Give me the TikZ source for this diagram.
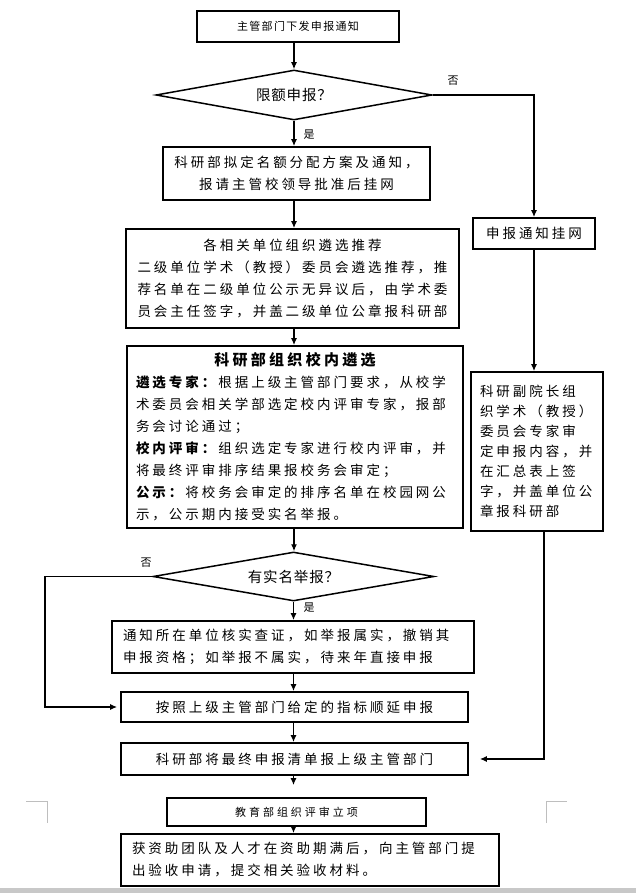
\documentclass[tikz,border=0pt]{standalone}
\usepackage{fontspec}
\setmainfont{Noto Sans CJK SC}
\usetikzlibrary{shapes.geometric,arrows.meta}
\definecolor{barGray}{RGB}{200,200,200}
\definecolor{markGray}{RGB}{190,190,190}
\begin{document}
\begin{tikzpicture}
[x=1pt,y=-1pt,
ar/.style={-{Latex[length=7pt,width=6pt]},line width=1.2pt},
bx/.style={draw,line width=1.8pt,inner sep=0pt,font=\fontsize{13.5}{22}\selectfont\addfontfeature{LetterSpace=22}},
sm/.style={bx,font=\fontsize{11}{14}\selectfont\addfontfeature{LetterSpace=12}},
dm/.style={draw,diamond,aspect=5.6,line width=1.5pt,inner sep=0pt,font=\fontsize{14.5}{18}\selectfont\addfontfeature{LetterSpace=6}},
lb/.style={inner sep=0pt,font=\fontsize{11}{13}\selectfont}]
\useasboundingbox (0,0) rectangle (636,893);
\fill [barGray] (0,888) rectangle (636,893);

\node [sm,minimum width=202pt,minimum height=31pt] at (298,26.5) (B1) {主管部门下发申报通知};
\node [dm,minimum width=276pt,minimum height=50pt] at (294,95) (D1) {限额申报？};
\node [bx,minimum width=267pt,minimum height=53pt,align=center] at (296.5,173.5) (B2) {科研部拟定名额分配方案及通知，\\报请主管校领导批准后挂网};
\node [bx,minimum width=333pt,minimum height=99pt,align=center] at (292.5,278.5) (B3) {各相关单位组织遴选推荐\\二级单位学术（教授）委员会遴选推荐，推\\荐名单在二级单位公示无异议后，由学术委\\员会主任签字，并盖二级单位公章报科研部};
\node [bx,text width=318pt,inner xsep=9pt,minimum height=182pt,align=left] at (295,437) (B4) {\makebox[\linewidth]{\fontsize{15}{22}\selectfont\bfseries 科研部组织校内遴选}\\\textbf{遴选专家：}根据上级主管部门要求，从校学\\术委员会相关学部选定校内评审专家，报部\\务会讨论通过；\\\textbf{校内评审：}组织选定专家进行校内评审，并\\将最终评审排序结果报校务会审定；\\\textbf{公示：}将校务会审定的排序名单在校园网公\\示，公示期内接受实名举报。};
\node [bx,minimum width=122pt,minimum height=31pt] at (534,233.5) (R1) {申报通知挂网};
\node [bx,text width=114pt,inner xsep=9pt,minimum height=159pt,align=left,font=\fontsize{13.5}{20}\selectfont\addfontfeature{LetterSpace=22}] at (537,451.5) (R2) {科研副院长组\\织学术（教授）\\委员会专家审\\定申报内容，并\\在汇总表上签\\字，并盖单位公\\章报科研部};
\node [dm,minimum width=281pt,minimum height=49pt] at (293.5,576.5) (D2) {有实名举报？};
\node [bx,text width=340pt,inner xsep=11pt,minimum height=52pt,align=left] at (293,647) (B5) {通知所在单位核实查证，如举报属实，撤销其\\申报资格；如举报不属实，待来年直接申报};
\node [bx,minimum width=347pt,minimum height=30pt] at (294.5,707) (B6) {按照上级主管部门给定的指标顺延申报};
\node [bx,minimum width=347pt,minimum height=32pt] at (294.5,759) (B7) {科研部将最终申报清单报上级主管部门};
\node [sm,minimum width=259pt,minimum height=28pt,font=\fontsize{11}{14}\selectfont\addfontfeature{LetterSpace=27}] at (296.5,812) (B8) {教育部组织评审立项};
\node [bx,text width=356pt,inner xsep=11pt,minimum height=52pt,align=left] at (310,860) (B9) {获资助团队及人才在资助期满后，向主管部门提\\出验收申请，提交相关验收材料。};

\node [lb] at (453,81) (N1) {否};
\node [lb] at (309,135) (Y1) {是};
\node [lb] at (146,563) (N2) {否};
\node [lb] at (309,608) (Y2) {是};
\coordinate (C1) at (544,760);
\coordinate (C2) at (45,577);

\draw [ar] (B1.south -| D1) -- (D1.north);
\draw [ar] (D1.south) -- (B2.north -| D1);
\draw [ar] (B2.south -| D1) -- (B3.north -| D1);
\draw [ar] (B3.south -| D1) -- (B4.north -| D1);
\draw [ar] (B4.south -| D1) -- (D2.north -| D1);
\draw [ar] (D2.south) -- (B5.north -| D2);
\draw [ar] (B5.south -| D2) -- (B6.north -| D2);
\draw [ar] (B6.south -| D2) -- (B7.north -| D2);
\draw [ar,shorten >=12pt] (B7.south -| D2) -- (B8.north -| D2);
\draw [ar] (B8.south -| D2) -- (B9.north -| D2);
\draw [ar] (D1.east) -| (R1.north);
\draw [ar] (R1.south) -- (R2.north -| R1);
\draw [ar,shorten >=11pt] (R2.south -| C1) |- (B7.east);
\draw [ar,shorten >=3pt] (D2.west) -- (D2.west -| C2) |- (B6.west);

\draw [markGray,line width=0.8pt] (26,801) -- (47.5,801) -- (47.5,823);
\draw [markGray,line width=0.8pt] (546,823) -- (546,801) -- (567,801);
\end{tikzpicture}
\end{document}
